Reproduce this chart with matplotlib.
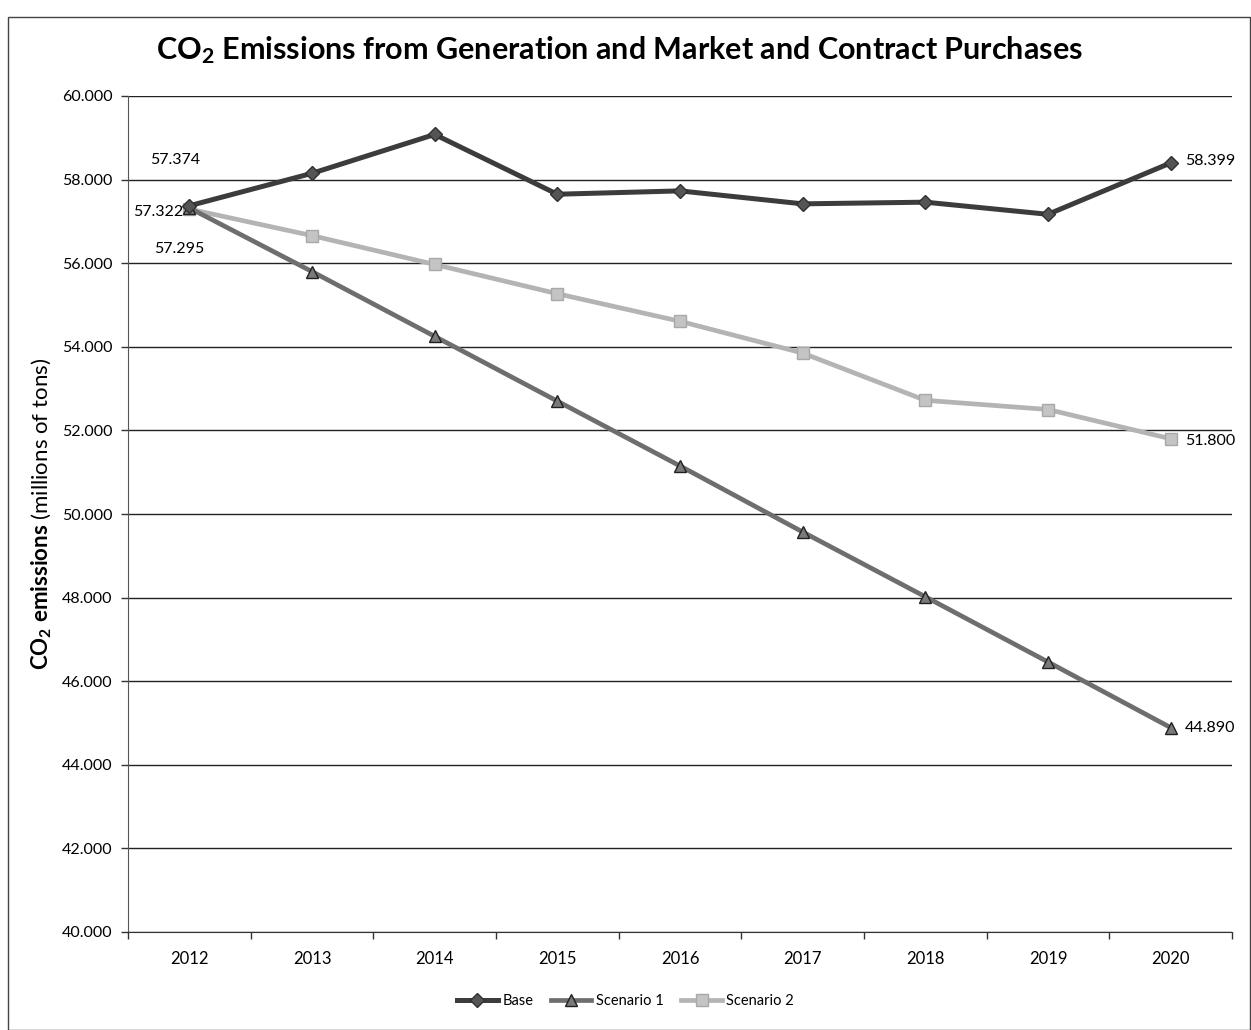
import numpy as np
import matplotlib
matplotlib.use('Agg')
import matplotlib.pyplot as plt
from matplotlib.patches import Rectangle

# data
years = ['2012', '2013', '2014', '2015', '2016', '2017', '2018', '2019', '2020']
base = [57.374, 58.15, 59.08, 57.65, 57.73, 57.42, 57.46, 57.17, 58.399]
scenario1 = [57.322, 55.80, 54.25, 52.70, 51.15, 49.57, 48.02, 46.46, 44.890]
scenario2 = [57.295, 56.66, 55.97, 55.27, 54.61, 53.85, 52.72, 52.50, 51.800]
yticks = [40, 42, 44, 46, 48, 50, 52, 54, 56, 58, 60]

plt.rcParams['font.family'] = ['Lato', 'DejaVu Sans']
plt.rcParams['mathtext.fontset'] = 'custom'
plt.rcParams['mathtext.rm'] = 'Lato'
plt.rcParams['mathtext.bf'] = 'Lato:bold'
plt.rcParams['mathtext.it'] = 'Lato:italic'

fig = plt.figure(figsize=(12.51, 10.30), dpi=100)
ax = fig.add_axes([128 / 1251, 1 - 932 / 1030, (1232 - 128) / 1251, (932 - 96) / 1030])

x = np.arange(len(years))

ax.plot(x, scenario2, color='#b4b4b4', lw=3.4, marker='s', ms=8,
        mfc='#c4c4c4', mec='#a8a8a8', label='Scenario 2', zorder=3)
ax.plot(x, scenario1, color='#6e6e6e', lw=3.4, marker='^', ms=8,
        mfc='#7a7a7a', mec='#202020', label='Scenario 1', zorder=4)
ax.plot(x, base, color='#3c3c3c', lw=3.6, marker='D', ms=7,
        mfc='#555555', mec='#303030', label='Base', zorder=5)

# data labels (first and last points)
fs = 11.5
ax.annotate(f'{base[0]:.3f}', (x[0], base[0]), xytext=(-14, 46), textcoords='offset pixels',
            ha='center', va='center', fontsize=fs)
ax.annotate(f'{scenario1[0]:.3f}', (x[0], scenario1[0]), xytext=(-6, -4), textcoords='offset pixels',
            ha='right', va='center', fontsize=fs)
ax.annotate(f'{scenario2[0]:.3f}', (x[0], scenario2[0]), xytext=(-10, -40), textcoords='offset pixels',
            ha='center', va='center', fontsize=fs)
ax.annotate(f'{base[-1]:.3f}', (x[-1], base[-1]), xytext=(14, 2), textcoords='offset pixels',
            ha='left', va='center', fontsize=fs)
ax.annotate(f'{scenario2[-1]:.3f}', (x[-1], scenario2[-1]), xytext=(14, -2), textcoords='offset pixels',
            ha='left', va='center', fontsize=fs)
ax.annotate(f'{scenario1[-1]:.3f}', (x[-1], scenario1[-1]), xytext=(14, 0), textcoords='offset pixels',
            ha='left', va='center', fontsize=fs)

ax.set_xlim(-0.5, len(years) - 0.5)
ax.set_ylim(40, 60)
ax.set_yticks(yticks)
ax.set_yticklabels([f'{v:.3f}' for v in yticks], fontsize=11.5)
ax.set_xticks(x)
ax.set_xticklabels(years, fontsize=12)
ax.set_xticks(np.arange(-0.5, len(years), 1), minor=True)
ax.tick_params(axis='x', which='major', length=0, pad=14)
ax.tick_params(axis='x', which='minor', length=5, width=1, color='#333333', direction='out')
ax.tick_params(axis='y', length=5, width=1, color='#333333', direction='out', pad=6)

ax.grid(axis='y', color='#222222', lw=1)
ax.set_axisbelow(True)
for s in ['top', 'right']:
    ax.spines[s].set_visible(False)
ax.spines['left'].set_color('#555555')
ax.spines['bottom'].set_color('#333333')

ax.set_ylabel(r'$\mathbf{CO_2\ emissions}$ (millions of tons)', fontsize=16, labelpad=6)

fig.text(0.495, 1 - 50 / 1030,
         r'$\mathbf{CO_2}$ Emissions from Generation and Market and Contract Purchases',
         ha='center', va='center', fontsize=22, fontweight='bold')

h, l = ax.get_legend_handles_labels()
order = [2, 1, 0]
fig.legend([h[i] for i in order], [l[i] for i in order], loc='center',
           bbox_to_anchor=(0.5, 1 - 1001 / 1030), ncol=3, frameon=False,
           fontsize=10.5, handlelength=2.8, columnspacing=1.2, handletextpad=0.3)

# outer chart frame
fig.patches.append(Rectangle((8 / 1251, 0), 1 - 9 / 1251, 1 - 17 / 1030,
                             transform=fig.transFigure, fill=False,
                             edgecolor='#444444', lw=1))

fig.savefig('out.png', dpi=100)
